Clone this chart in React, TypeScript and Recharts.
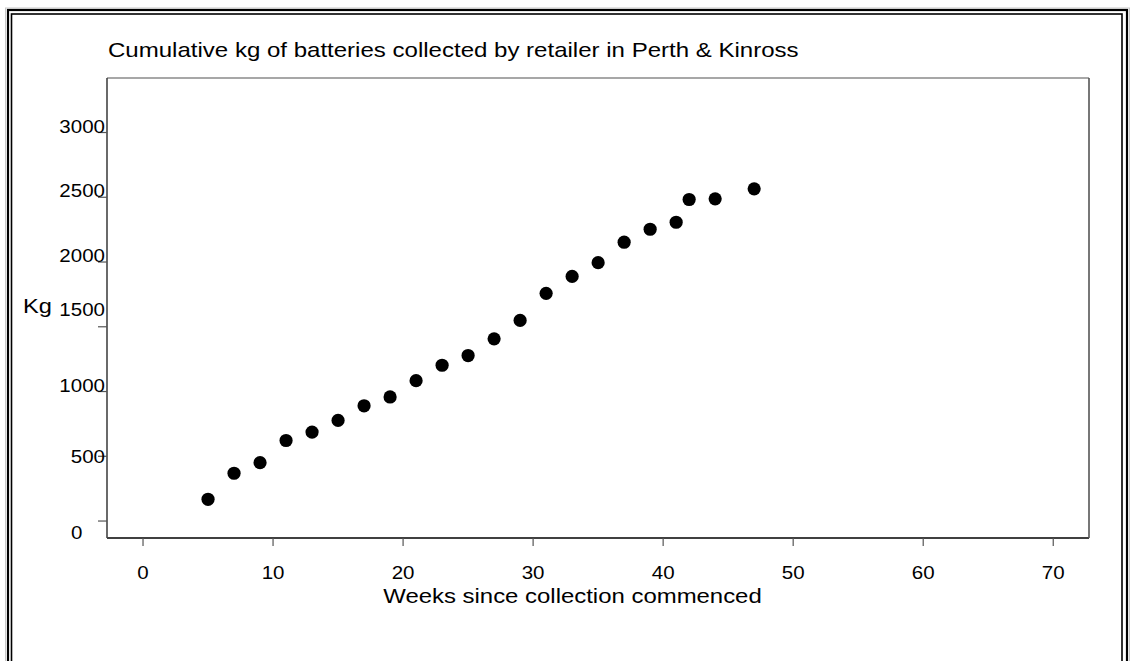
import React from "react";
import { ScatterChart, Scatter, XAxis, YAxis } from "recharts";

const weeks = [5, 7, 9, 11, 13, 15, 17, 19, 21, 23, 25, 27, 29, 31, 33, 35, 37, 39, 41, 42, 44, 47];
const kg = [168, 369, 451, 622, 687, 777, 890, 958, 1084, 1203, 1278, 1407, 1549, 1758, 1889, 1995, 2153, 2253, 2307, 2483, 2488, 2565];
const xTicks = [0, 10, 20, 30, 40, 50, 60, 70];
const yTicks = [0, 500, 1000, 1500, 2000, 2500, 3000];
const title = "Cumulative kg of batteries collected by retailer in Perth & Kinross";
const xTitle = "Weeks since collection commenced";
const yTitle = "Kg";

const data = weeks.map((w, i) => ({ week: w, kg: kg[i] }));

const FONT = "'Liberation Sans', Arial, Helvetica, sans-serif";
const SX = 1.14;

if (typeof document !== "undefined") {
  document.body.style.margin = "0";
}

const Y_LABEL_DY: Record<number, number> = { 0: 18, 500: 7, 1000: 0, 1500: -11, 2000: 0, 2500: 0, 3000: 0 };

function YTick(props: any) {
  const { x, y, payload } = props;
  const v = payload.value as number;
  const dy = Y_LABEL_DY[v] ?? 0;
  const isZero = v === 0;
  const tx = isZero ? x - 27 : x + 7;
  return (
    <text
      transform={`translate(${tx},${y + dy}) scale(${SX},1)`}
      textAnchor={isZero ? "start" : "end"}
      fontFamily={FONT}
      fontSize={18}
      fill="#000"
    >
      {v}
    </text>
  );
}

function XTick(props: any) {
  const { x, y, payload } = props;
  return (
    <text
      transform={`translate(${x},${y + 33}) scale(${SX},1)`}
      textAnchor="middle"
      fontFamily={FONT}
      fontSize={18}
      fill="#000"
    >
      {payload.value}
    </text>
  );
}

function Dot(props: any) {
  const { cx, cy } = props;
  return <circle cx={cx} cy={cy} r={6.6} fill="#000" />;
}

export default function App() {
  return (
    <div style={{ position: "relative", width: 1131, height: 661, overflow: "hidden", background: "#fff" }}>
      <ScatterChart
        width={1131}
        height={661}
        margin={{ top: 68, right: 32, bottom: 93, left: 47 }}
      >
        <XAxis
          xAxisId="b"
          type="number"
          dataKey="week"
          domain={[-2.77, 72.75]}
          ticks={xTicks}
          allowDataOverflow
          height={30}
          tickSize={8}
          tickMargin={0}
          axisLine={{ stroke: "#000", strokeWidth: 1.6 }}
          tickLine={{ stroke: "#555", strokeWidth: 1.2 }}
          tick={<XTick />}
        />
        <XAxis
          xAxisId="t"
          orientation="top"
          type="number"
          domain={[-2.77, 72.75]}
          allowDataOverflow
          height={10}
          tick={false}
          tickLine={false}
          axisLine={{ stroke: "#8a8a8a", strokeWidth: 1.6 }}
        />
        <YAxis
          yAxisId="l"
          type="number"
          dataKey="kg"
          domain={[-131, 3421]}
          ticks={yTicks}
          allowDataOverflow
          width={60}
          tickSize={9}
          tickMargin={0}
          axisLine={{ stroke: "#444", strokeWidth: 1.6 }}
          tickLine={{ stroke: "#555", strokeWidth: 1.2 }}
          tick={<YTick />}
        />
        <YAxis
          yAxisId="r"
          orientation="right"
          type="number"
          domain={[-131, 3421]}
          allowDataOverflow
          width={10}
          tick={false}
          tickLine={false}
          axisLine={{ stroke: "#555", strokeWidth: 1.6 }}
        />
        <Scatter
          xAxisId="b"
          yAxisId="l"
          data={data}
          fill="#000"
          shape={<Dot />}
          isAnimationActive={false}
        />
      </ScatterChart>
      <svg
        width={1131}
        height={661}
        style={{ position: "absolute", left: 0, top: 0, pointerEvents: "none" }}
      >
        <rect x={5.5} y={8} width={1124} height={700} fill="none" stroke="#c8c8c8" strokeWidth={1} />
        <rect x={8} y={10} width={1119} height={700} fill="none" stroke="#000" strokeWidth={2.2} />
        <rect x={11.5} y={14} width={1110.5} height={700} fill="none" stroke="#000" strokeWidth={1.6} />
        <text
          transform={`translate(108,57) scale(1.145,1)`}
          fontFamily={FONT}
          fontSize={21}
          fill="#000"
        >
          {title}
        </text>
        <text
          transform={`translate(23,313) scale(1.18,1)`}
          fontFamily={FONT}
          fontSize={20}
          fill="#000"
        >
          {yTitle}
        </text>
        <text
          transform={`translate(572.5,603) scale(${SX},1)`}
          textAnchor="middle"
          fontFamily={FONT}
          fontSize={21}
          fill="#000"
        >
          {xTitle}
        </text>
      </svg>
    </div>
  );
}
